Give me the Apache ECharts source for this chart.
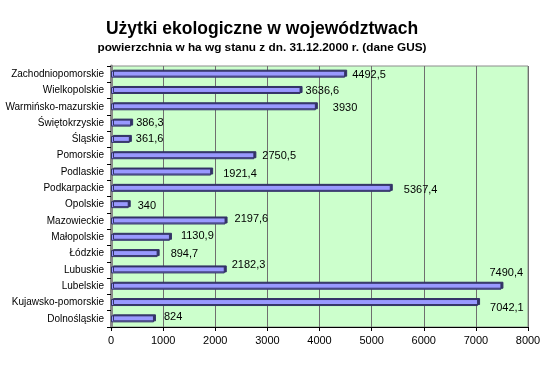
<!DOCTYPE html>
<html>
<head>
<meta charset="utf-8">
<script src="https://cdn.jsdelivr.net/npm/echarts@6/dist/echarts.min.js"></script>
<style>
  html, body { margin: 0; padding: 0; background: #fff; }
  #chart { width: 550px; height: 377px; }
</style>
</head>
<body>
<div id="chart"></div>
<script>
  // województwa, od góry do dołu
  const regions = [
    'Zachodniopomorskie', 'Wielkopolskie', 'Warmińsko-mazurskie', 'Świętokrzyskie',
    'Śląskie', 'Pomorskie', 'Podlaskie', 'Podkarpackie', 'Opolskie', 'Mazowieckie',
    'Małopolskie', 'Łódzkie', 'Lubuskie', 'Lubelskie', 'Kujawsko-pomorskie', 'Dolnośląskie'
  ];
  // powierzchnia w ha
  const area = [
    4492.5, 3636.6, 3930, 386.3,
    361.6, 2750.5, 1921.4, 5367.4, 340, 2197.6,
    1130.9, 894.7, 2182.3, 7490.4, 7042.1, 824
  ];
  const xTicks = [0, 1000, 2000, 3000, 4000, 5000, 6000, 7000, 8000];

  // przesunięcia etykiet jak w oryginale (px)
  const labelShift = [
    [2, 1], [0, 0], [12, 1], [0, 0],
    [1, 0], [3, 0], [7, 2], [8, 2], [4, 1], [4, -2],
    [6, -1], [8, 0], [2, -5], [-17, -13], [7, 5], [5, -2]
  ];

  const font = '"Liberation Sans", Arial, sans-serif';

  const chart = echarts.init(document.getElementById('chart'));

  const option = {
    animation: false,
    backgroundColor: '#ffffff',
    title: {
      text: 'Użytki ekologiczne w województwach',
      subtext: 'powierzchnia w ha wg stanu z dn. 31.12.2000 r. (dane GUS)',
      left: 257,
      top: 15,
      textAlign: 'center',
      itemGap: 4,
      textStyle: { fontFamily: font, fontSize: 17.5, fontWeight: 'bold', color: '#000' },
      subtextStyle: { fontFamily: font, fontSize: 11.8, fontWeight: 'bold', color: '#000' },
    },
    grid: {
      left: 111,
      right: 22,
      top: 66,
      bottom: 50,
      outerBoundsMode: 'none',
      containLabel: false,
      show: true,
      backgroundColor: '#CCFFCC',
      borderColor: '#8c8c8c',
      borderWidth: 1,
    },
    xAxis: {
      type: 'value',
      min: xTicks[0],
      max: xTicks[xTicks.length - 1],
      interval: 1000,
      axisLine: { show: true, lineStyle: { color: '#000', width: 1 } },
      axisTick: { show: true, length: 4, lineStyle: { color: '#000' } },
      axisLabel: {
        fontFamily: font, fontSize: 11, color: '#000', margin: 8,
        formatter: (v) => String(v),
      },
      splitLine: { show: true, lineStyle: { color: '#6f6f6f', width: 1 } },
    },
    yAxis: {
      type: 'category',
      data: regions,
      inverse: true,
      axisLine: { show: true, lineStyle: { color: '#8a8a8a', width: 3 } },
      axisTick: { show: true, length: 4, lineStyle: { color: '#000' } },
      axisLabel: { fontFamily: font, fontSize: 10, color: '#000', margin: 7 },
    },
    series: [
      {
        type: 'bar',
        barWidth: 7,
        data: area.map((v, i) => ({
          value: v,
          label: { offset: labelShift[i] },
        })),
        itemStyle: {
          color: '#9999FF',
          borderColor: '#333366',
          borderWidth: 1,
          shadowColor: '#333366',
          shadowBlur: 0,
          shadowOffsetX: 2,
          shadowOffsetY: -1,
        },
        label: {
          show: true,
          position: 'right',
          distance: 5,
          fontFamily: font,
          fontSize: 11,
          color: '#000',
          formatter: (p) => String(p.value).replace('.', ','),
        },
      },
    ],
  };

  chart.setOption(option);
</script>
</body>
</html>
